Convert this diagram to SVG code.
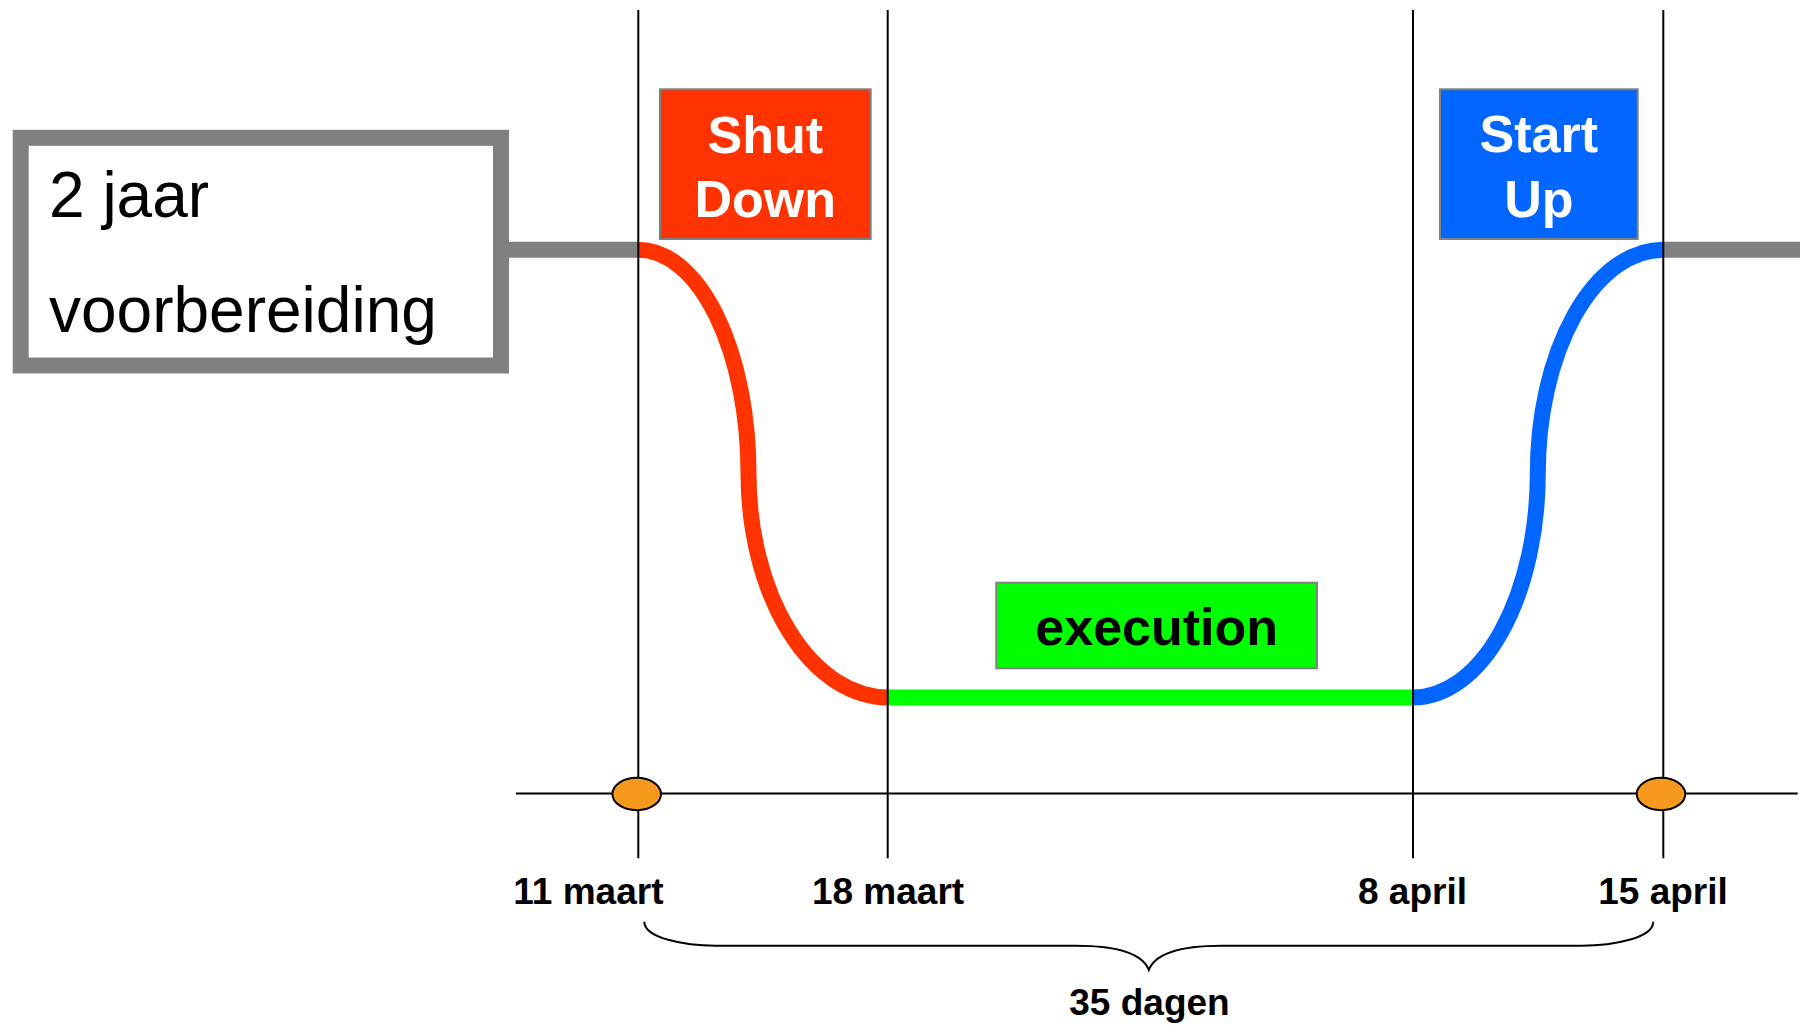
<svg xmlns="http://www.w3.org/2000/svg" width="1800" height="1025" viewBox="0 0 1800 1025">
  <style>
    .lbl { font-family: "Liberation Sans", Arial, sans-serif; font-weight: bold; font-size: 37px; fill: #000; text-anchor: middle; }
    .box-txt { font-family: "Liberation Sans", Arial, sans-serif; font-weight: bold; font-size: 52px; text-anchor: middle; }
    .prep-txt { font-family: "Liberation Sans", Arial, sans-serif; font-size: 64px; fill: #000; }
    .vline { stroke: #000; stroke-width: 2; fill: none; }
    .thick { fill: none; stroke-width: 16; }
    .phase { stroke: #808080; stroke-width: 2; }
    .milestone { fill: #F7991C; stroke: #000; stroke-width: 2; }
  </style>
  <rect width="1800" height="1025" fill="#fff"/>

  <g id="connectors">
    <line x1="509" y1="249.7" x2="638.3" y2="249.7" class="thick" stroke="#808080"/>
    <line x1="1663.3" y1="249.7" x2="1800" y2="249.7" class="thick" stroke="#808080"/>
    <path d="M638.3,249.7 A110.2,223.6 0 0 1 748.5,473.3 A139.8,224.2 0 0 0 888.3,697.5" class="thick" stroke="#FF3300"/>
    <line x1="888.3" y1="697.5" x2="1413" y2="697.5" class="thick" stroke="#00FF00"/>
    <path d="M1413,697.5 A124.8,224.2 0 0 0 1537.8,473.3 A125.5,223.6 0 0 1 1663.3,249.7" class="thick" stroke="#0066FF"/>
    <line x1="638.3" y1="10" x2="638.3" y2="858.3" class="vline"/>
    <line x1="887.7" y1="10" x2="887.7" y2="858.3" class="vline"/>
    <line x1="1413" y1="10" x2="1413" y2="858.3" class="vline"/>
    <line x1="1663.3" y1="10" x2="1663.3" y2="858.3" class="vline"/>
    <line x1="516" y1="793.5" x2="1797.7" y2="793.5" class="vline"/>
    <path d="M644.3,921.7 C644.3,938 684,945.7 716,945.7 L1076,945.7 C1114,945.7 1142,952 1148.8,970 C1155.6,952 1184,945.7 1221.6,945.7 L1581.6,945.7 C1613.6,945.7 1653.3,938 1653.3,921.7" class="vline"/>
  </g>

  <g id="preparation">
    <rect x="20.7" y="137.8" width="480.3" height="227.7" fill="#fff" stroke="#808080" stroke-width="16"/>
    <text x="49" y="217.3" class="prep-txt">2 jaar</text>
    <text x="49" y="331.7" class="prep-txt">voorbereiding</text>
  </g>

  <g id="shutdown">
    <rect x="660" y="89.3" width="210.7" height="149.7" fill="#FF3300" class="phase"/>
    <text x="765.3" y="152.7" class="box-txt" fill="#fff">Shut</text>
    <text x="765.3" y="216.7" class="box-txt" fill="#fff">Down</text>
  </g>

  <g id="execution">
    <rect x="996.3" y="582.7" width="320.7" height="85.6" fill="#00FF00" class="phase"/>
    <text x="1156.7" y="645" class="box-txt" fill="#000">execution</text>
  </g>

  <g id="startup">
    <rect x="1440" y="89.3" width="197.7" height="149.7" fill="#0066FF" class="phase"/>
    <text x="1538.8" y="151.7" class="box-txt" fill="#fff">Start</text>
    <text x="1538.8" y="216.7" class="box-txt" fill="#fff">Up</text>
  </g>

  <g id="milestone-start">
    <ellipse cx="636.7" cy="794" rx="24.3" ry="16.2" class="milestone"/>
  </g>
  <g id="milestone-end">
    <ellipse cx="1661" cy="794" rx="24.3" ry="16.2" class="milestone"/>
  </g>

  <g id="labels">
    <text x="588.4" y="904" class="lbl">11 maart</text>
    <text x="888" y="904" class="lbl">18 maart</text>
    <text x="1412.5" y="904" class="lbl">8 april</text>
    <text x="1663" y="904" class="lbl">15 april</text>
    <text x="1149.5" y="1015" class="lbl">35 dagen</text>
  </g>
</svg>
